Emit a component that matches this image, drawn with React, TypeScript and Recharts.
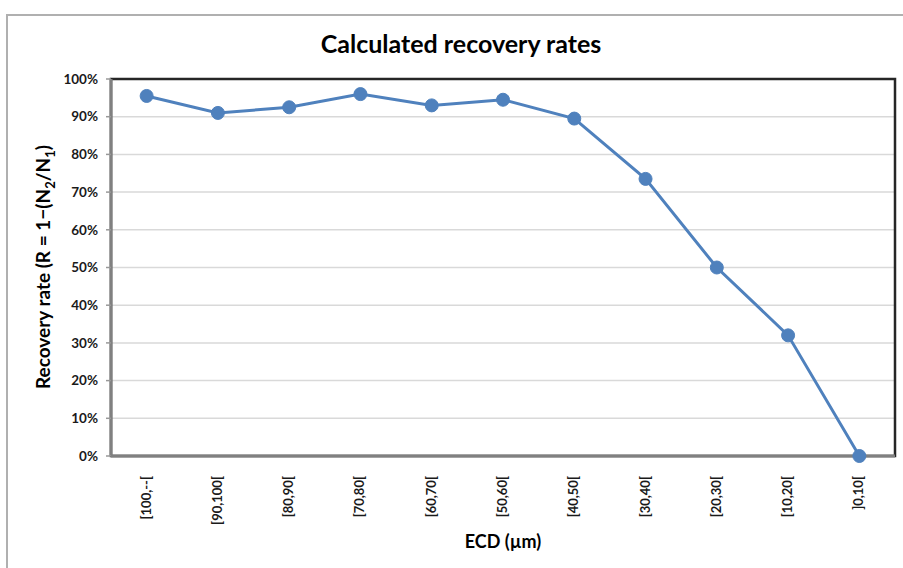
import { LineChart, Line, XAxis, YAxis, CartesianGrid, ReferenceArea, ReferenceLine } from "recharts";

const categories = [
  "[100,--[",
  "[90,100[",
  "[80,90[",
  "[70,80[",
  "[60,70[",
  "[50,60[",
  "[40,50[",
  "[30,40[",
  "[20,30[",
  "[10,20[",
  "]0,10[",
];
const recovery = [95.5, 91, 92.5, 96, 93, 94.5, 89.5, 73.5, 50, 32, 0];
const yTicks = [0, 10, 20, 30, 40, 50, 60, 70, 80, 90, 100];

const data = categories.map((label, i) => ({ idx: i, label, rate: recovery[i] }));
const labelTicks = categories.map((_, i) => i);
const edgeTicks = [...labelTicks.map((i) => i - 0.5), categories.length - 0.5];
const xDomain = [-0.5, categories.length - 0.5];

const FONT = "Lato, 'Open Sans', sans-serif";
const BLUE = "#4F81BD";

function CategoryTick(props: any) {
  const { x, y, payload } = props;
  return (
    <text
      x={x + 4}
      y={y + 12}
      transform={`rotate(-90, ${x + 4}, ${y + 12})`}
      textAnchor="end"
      fontFamily={FONT}
      fontSize={13}
      fontWeight={700}
      fill="#1a1a1a"
    >
      {categories[payload.value]}
    </text>
  );
}

function YTitle() {
  const cx = 50;
  const cy = 267;
  return (
    <text
      x={cx}
      y={cy}
      transform={`rotate(-90, ${cx}, ${cy})`}
      textAnchor="middle"
      fontFamily={FONT}
      fontSize={19}
      fontWeight={700}
      fill="#000"
    >
      Recovery rate (R = 1−(N
      <tspan fontSize={13} dy={5}>2</tspan>
      <tspan dy={-5}>/N</tspan>
      <tspan fontSize={13} dy={5}>1</tspan>
      <tspan dy={-5}>)</tspan>
    </text>
  );
}

export default function App() {
  return (
    <div
      style={{
        position: "absolute",
        left: 0,
        top: 0,
        width: 903,
        height: 568,
        overflow: "hidden",
        background: "#fff",
      }}
    >
      <div
        style={{
          position: "absolute",
          left: 6,
          top: 14,
          width: 1000,
          height: 1000,
          border: "2px solid #b0b0b0",
        }}
      />
      <div
        style={{
          position: "absolute",
          left: 0,
          top: 28,
          width: 922,
          textAlign: "center",
          fontFamily: FONT,
          fontWeight: 700,
          fontSize: 25,
          color: "#000",
        }}
      >
        Calculated recovery rates
      </div>
      <div style={{ position: "absolute", left: 0, top: 0 }}>
        <LineChart
          width={903}
          height={568}
          data={data}
          margin={{ top: 79, right: 8, bottom: 0, left: 0 }}
        >
          <CartesianGrid vertical={false} stroke="#d9d9d9" strokeWidth={1.5} yAxisId="left" xAxisId="main" />
          <XAxis
            xAxisId="edge"
            dataKey="idx"
            type="number"
            domain={xDomain}
            ticks={edgeTicks}
            tick={false}
            tickSize={6}
            tickLine={{ stroke: "#999", strokeWidth: 1.5 }}
            height={0}
            axisLine={false}
          />
          <XAxis
            xAxisId="main"
            dataKey="idx"
            type="number"
            domain={xDomain}
            ticks={labelTicks}
            tick={<CategoryTick />}
            tickLine={false}
            axisLine={false}
            height={112}
            interval={0}
            label={{
              value: "ECD (µm)",
              position: "insideBottom",
              offset: 20,
              fontFamily: FONT,
              fontSize: 18,
              fontWeight: 700,
              fill: "#000",
            }}
          />
          <YAxis
            yAxisId="left"
            domain={[0, 100]}
            ticks={yTicks}
            interval={0}
            width={111}
            tickFormatter={(v: number) => `${v}%`}
            tick={{ fontFamily: FONT, fontSize: 13.5, fontWeight: 700, fill: "#1a1a1a", dx: -6 }}
            tickSize={5}
            tickLine={{ stroke: "#999", strokeWidth: 1.5 }}
            axisLine={false}
            label={<YTitle />}
          />
          <ReferenceArea
            xAxisId="main"
            yAxisId="left"
            x1={xDomain[0]}
            x2={xDomain[1]}
            y1={0}
            y2={100}
            fill="none"
            fillOpacity={0}
            stroke="#262626"
            strokeWidth={2.5}
            ifOverflow="visible"
          />
          <ReferenceLine
            xAxisId="main"
            yAxisId="left"
            x={xDomain[0]}
            stroke="#808080"
            strokeWidth={3}
            ifOverflow="visible"
          />
          <ReferenceLine
            xAxisId="main"
            yAxisId="left"
            y={0}
            stroke="#808080"
            strokeWidth={3}
            ifOverflow="visible"
          />
          <Line
            xAxisId="main"
            yAxisId="left"
            type="linear"
            dataKey="rate"
            stroke={BLUE}
            strokeWidth={3}
            dot={{ r: 6.5, fill: BLUE, stroke: BLUE, strokeWidth: 1 }}
            isAnimationActive={false}
          />
        </LineChart>
      </div>
    </div>
  );
}
